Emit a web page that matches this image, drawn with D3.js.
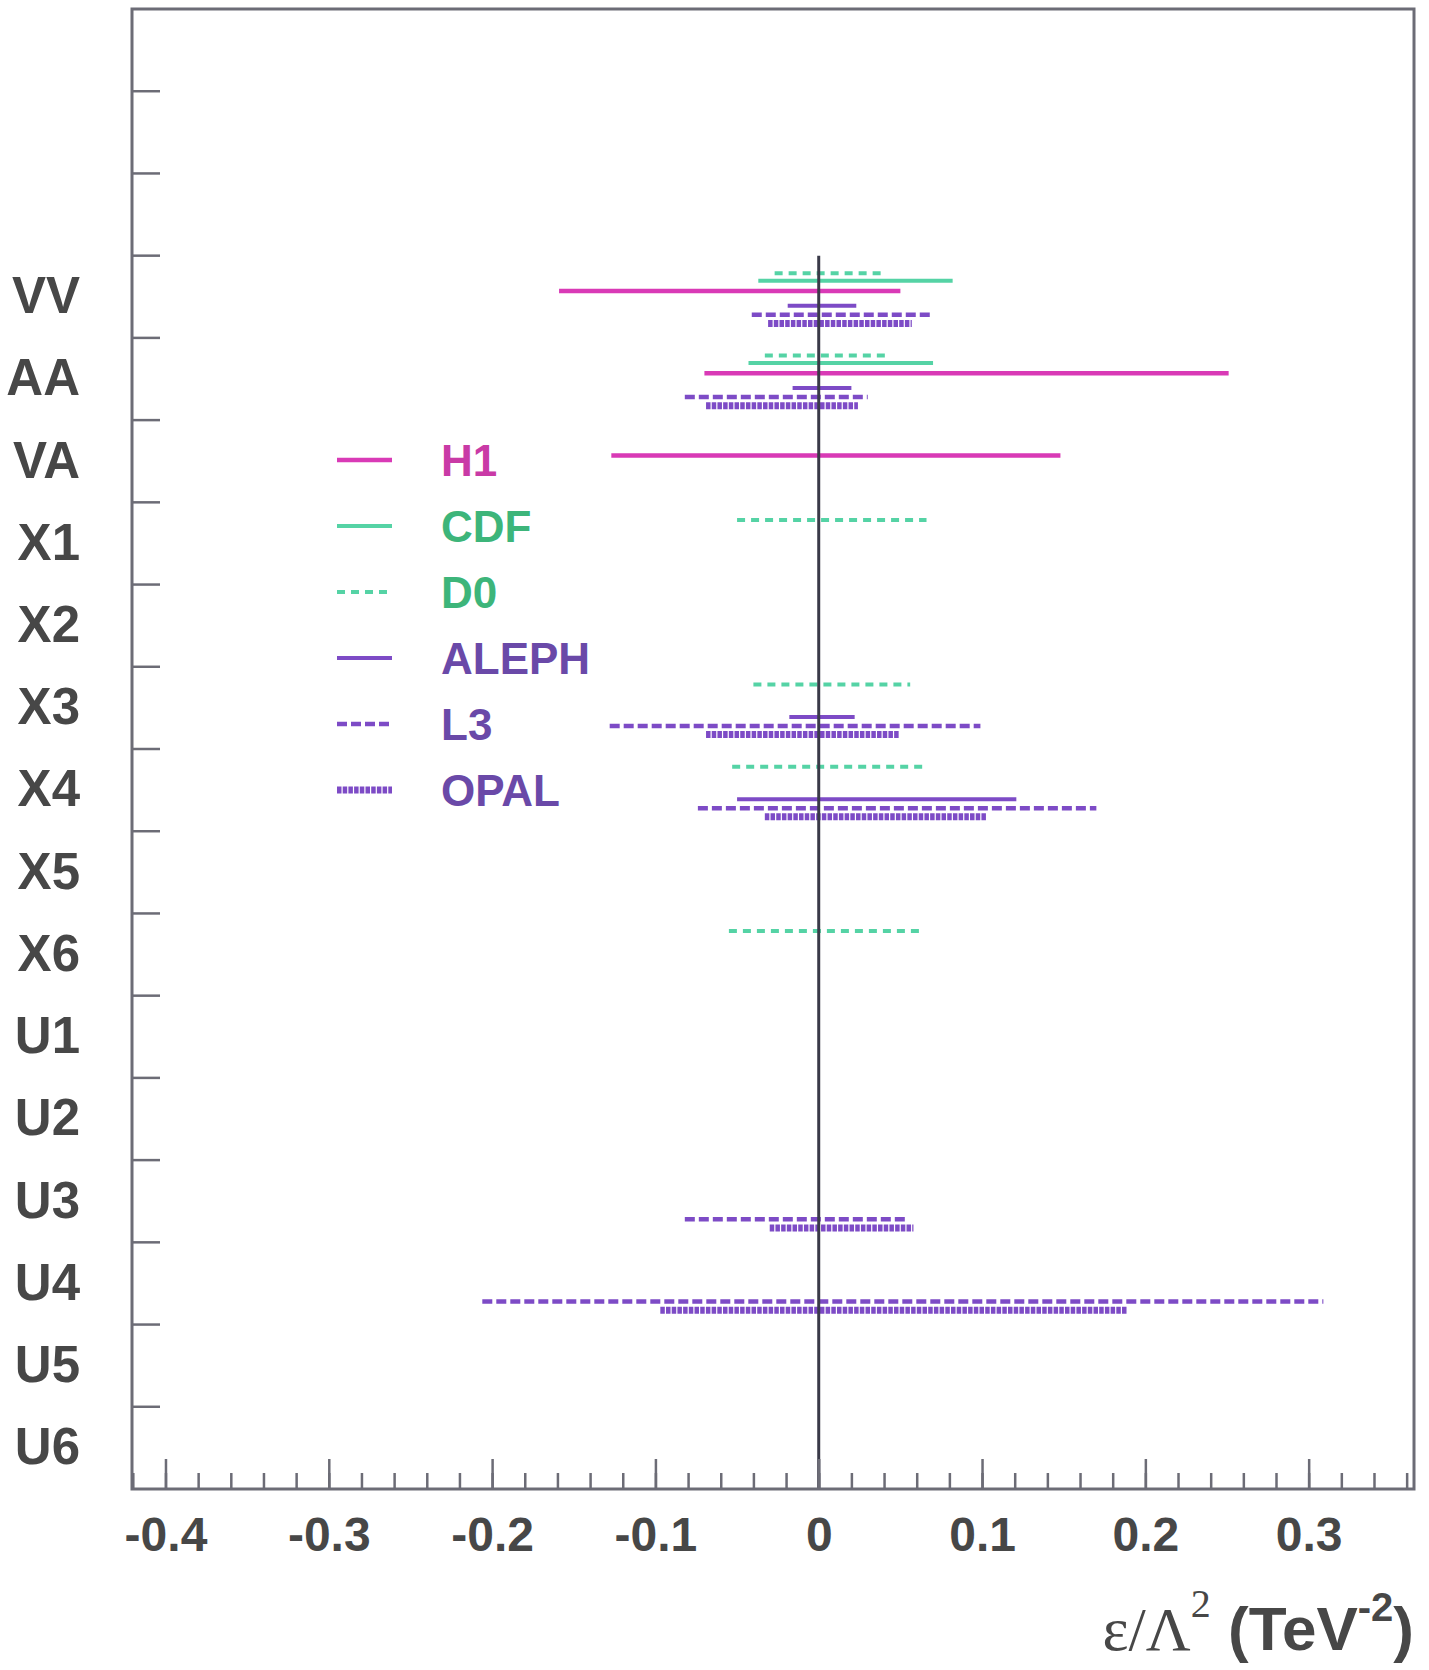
<!DOCTYPE html>
<html>
<head>
<meta charset="utf-8">
<script src="https://cdn.jsdelivr.net/npm/d3@7"></script>
<style>
  body { margin: 0; background: #fff; }
  svg { display: block; }
  .sans { font-family: "Liberation Sans", Arial, Helvetica, sans-serif; font-weight: bold; }
</style>
</head>
<body>
<svg id="chart" width="1429" height="1670"></svg>
<script>
// rows of the plot, top three rows are empty
const blankRows = ['blank1', 'blank2', 'blank3']
const categories = ['VV', 'AA', 'VA', 'X1', 'X2', 'X3', 'X4', 'X5', 'X6', 'U1', 'U2', 'U3', 'U4', 'U5', 'U6']
const experiments = ['H1', 'CDF', 'D0', 'ALEPH', 'L3', 'OPAL']
const xTickLabels = [-0.4, -0.3, -0.2, -0.1, 0, 0.1, 0.2, 0.3]

// allowed ranges of eps/Lambda^2 : [model, low, high]
const h1Limits = [['VV', -0.159, 0.050], ['AA', -0.070, 0.251], ['VA', -0.127, 0.148]]
const cdfLimits = [['VV', -0.037, 0.082], ['AA', -0.043, 0.070]]
const d0Limits = [['VV', -0.027, 0.040], ['AA', -0.033, 0.042], ['X1', -0.050, 0.066],
  ['X3', -0.040, 0.056], ['X4', -0.053, 0.066], ['X6', -0.055, 0.063]]
const alephLimits = [['VV', -0.019, 0.023], ['AA', -0.016, 0.020], ['X3', -0.018, 0.022], ['X4', -0.050, 0.121]]
const l3Limits = [['VV', -0.041, 0.070], ['AA', -0.082, 0.030], ['X3', -0.128, 0.099],
  ['X4', -0.074, 0.170], ['U3', -0.082, 0.055], ['U4', -0.206, 0.309]]
const opalLimits = [['VV', -0.031, 0.057], ['AA', -0.069, 0.024], ['X3', -0.069, 0.049],
  ['X4', -0.033, 0.103], ['U3', -0.030, 0.058], ['U4', -0.097, 0.189]]

const limitsByExp = { H1: h1Limits, CDF: cdfLimits, D0: d0Limits, ALEPH: alephLimits, L3: l3Limits, OPAL: opalLimits }

const purple = '#7d4bc6'
const mint = '#55d3a5'
const styles = {
  H1:    { line: '#d93ab6', text: '#c93aa6', dash: null,    width: 4.5, offset: 0.43 },
  CDF:   { line: mint,      text: '#3db57a', dash: null,    width: 4,   offset: 0.305 },
  D0:    { line: mint,      text: '#3db57a', dash: '8 6',   width: 4,   offset: 0.215 },
  ALEPH: { line: purple,    text: '#6a49a8', dash: null,    width: 4,   offset: 0.61 },
  L3:    { line: purple,    text: '#6a49a8', dash: '10 4',  width: 4.5, offset: 0.72 },
  OPAL:  { line: purple,    text: '#6a49a8', dash: '4.5 1.2', width: 7, offset: 0.825 }
}

const frame = { left: 132, right: 1414, top: 9, bottom: 1489 }
const frameColor = '#6c6c76'

const svg = d3.select('#chart')

const xScale = d3.scaleLinear()
  .domain([-0.4205, 0.3645])
  .range([frame.left, frame.right])

const yScale = d3.scaleBand()
  .domain([...blankRows, ...categories])
  .range([frame.top, frame.bottom])

const bw = yScale.bandwidth()

// limit bars
const bars = svg.append('g')
experiments.forEach(exp => {
  const st = styles[exp]
  bars.selectAll(null)
    .data(limitsByExp[exp])
    .join('line')
    .attr('x1', d => xScale(d[1]))
    .attr('x2', d => xScale(d[2]))
    .attr('y1', d => yScale(d[0]) + bw * st.offset)
    .attr('y2', d => yScale(d[0]) + bw * st.offset)
    .attr('stroke', st.line)
    .attr('stroke-width', st.width)
    .attr('stroke-dasharray', st.dash)
})

// zero line, from top of first model row down to the axis
svg.append('line')
  .attr('x1', xScale(0))
  .attr('x2', xScale(0))
  .attr('y1', yScale(categories[0]))
  .attr('y2', frame.bottom)
  .attr('stroke', '#3a3a48')
  .attr('stroke-width', 3)

// frame
svg.append('rect')
  .attr('x', frame.left)
  .attr('y', frame.top)
  .attr('width', frame.right - frame.left)
  .attr('height', frame.bottom - frame.top)
  .attr('fill', 'none')
  .attr('stroke', frameColor)
  .attr('stroke-width', 3)

// left ticks between rows
const rowBounds = yScale.domain().slice(1)
svg.append('g')
  .selectAll('line')
  .data(rowBounds)
  .join('line')
  .attr('x1', frame.left)
  .attr('x2', frame.left + 28)
  .attr('y1', d => yScale(d))
  .attr('y2', d => yScale(d))
  .attr('stroke', frameColor)
  .attr('stroke-width', 2.5)

// row labels
const leftAxis = d3.axisLeft(yScale)
  .tickValues(categories)
  .tickSize(0)
  .tickPadding(52)
svg.append('g')
  .attr('transform', `translate(${frame.left}, 0)`)
  .call(leftAxis)
  .call(g => g.select('.domain').remove())
  .selectAll('text')
  .attr('class', 'sans')
  .attr('font-size', 51)
  .attr('fill', '#474747')

// x ticks: minor every 0.02, major every 0.1
const minorTicks = d3.range(-21, 19).map(i => +(i * 0.02).toFixed(2))
svg.append('g')
  .attr('transform', `translate(0, ${frame.bottom})`)
  .call(d3.axisTop(xScale).tickValues(minorTicks).tickSize(16).tickFormat(''))
  .call(g => g.select('.domain').remove())
svg.append('g')
  .attr('transform', `translate(0, ${frame.bottom})`)
  .call(d3.axisTop(xScale).tickValues(xTickLabels).tickSize(30).tickFormat(''))
  .call(g => g.select('.domain').remove())
svg.selectAll('.tick line')
  .attr('stroke', frameColor)
  .attr('stroke-width', 2.5)

const bottomAxis = d3.axisBottom(xScale)
  .tickValues(xTickLabels)
  .tickSize(0)
  .tickPadding(28)
  .tickFormat(d => d === 0 ? '0' : d3.format('.1f')(d).replace('−', '-'))
svg.append('g')
  .attr('transform', `translate(0, ${frame.bottom})`)
  .call(bottomAxis)
  .call(g => g.select('.domain').remove())
  .selectAll('text')
  .attr('class', 'sans')
  .attr('font-size', 48)
  .attr('fill', '#474747')

// axis title
const title = svg.append('text')
  .attr('x', frame.right)
  .attr('y', 1650)
  .attr('text-anchor', 'end')
  .attr('fill', '#474747')
title.append('tspan')
  .attr('font-family', '"Liberation Serif", "Times New Roman", serif')
  .attr('font-size', 62)
  .text('ε/Λ')
title.append('tspan')
  .attr('font-family', '"Liberation Serif", "Times New Roman", serif')
  .attr('font-size', 40)
  .attr('dy', -33)
  .text('2')
title.append('tspan')
  .attr('class', 'sans')
  .attr('font-size', 62)
  .attr('dy', 33)
  .text('\u00a0(TeV')
title.append('tspan')
  .attr('class', 'sans')
  .attr('font-size', 40)
  .attr('dy', -29)
  .text('-2')
title.append('tspan')
  .attr('class', 'sans')
  .attr('font-size', 62)
  .attr('dy', 29)
  .text(')')

// legend
const legend = svg.append('g')
  .attr('transform', 'translate(337, 460)')
const rows = legend.selectAll('g')
  .data(experiments)
  .join('g')
  .attr('transform', (d, i) => `translate(0, ${i * 66})`)
rows.append('line')
  .attr('x1', 0)
  .attr('x2', 55)
  .attr('stroke', d => styles[d].line)
  .attr('stroke-width', d => styles[d].width)
  .attr('stroke-dasharray', d => styles[d].dash)
rows.append('text')
  .attr('class', 'sans')
  .attr('x', 104)
  .attr('y', 16)
  .attr('font-size', 44)
  .attr('fill', d => styles[d].text)
  .text(d => d)
</script>
</body>
</html>
